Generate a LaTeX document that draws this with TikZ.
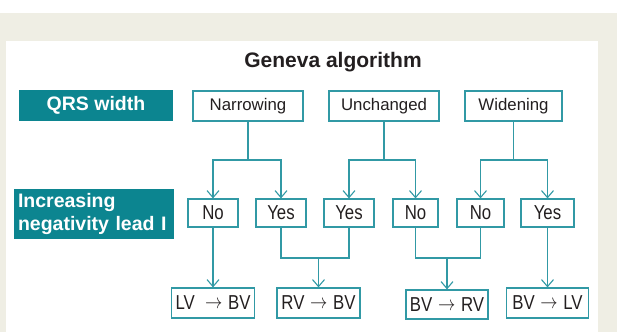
\documentclass[tikz,border=0pt]{standalone}
\usepackage{fontspec}
\setmainfont{Liberation Sans}
\usetikzlibrary{arrows.meta}
\definecolor{tealfill}{HTML}{0C8590}
\definecolor{tealline}{HTML}{3199A5}
\definecolor{panelbg}{HTML}{EFEEE4}
\definecolor{txt}{HTML}{231F20}
\newcommand\ra{\hspace{1pt}\raisebox{1pt}{$\rightarrow$}\hspace{1pt}}
\newcommand\talltxt[1]{\scalebox{1}[1.2]{#1}}

\begin{document}
\begin{tikzpicture}[x=1pt, y=-1pt,
    box/.style={draw=tealline, line width=1.2pt, fill=white, text=txt, inner sep=0pt, font=\fontsize{16.8}{19}\selectfont},
    label box/.style={fill=tealfill, text=white, inner sep=0pt, font=\bfseries\fontsize{19.5}{23.5}\selectfont},
    link/.style={draw=tealline, line width=1.2pt},
    arr/.style={link, -{Straight Barb[length=7pt, width=12pt, line width=1.1pt]}}]
    \useasboundingbox (0,0) rectangle (617,332);
    \fill[panelbg] (0,13) rectangle (617,332);
    \fill[white] (6,41) rectangle (598,332);

    \node[text=txt, font=\bfseries\fontsize{21}{25}\selectfont] (title) at (333,62) {Geneva algorithm};

    \node[label box, minimum width=154, minimum height=31] (qrs) at (96,105.5) {QRS width};
    \node[label box, minimum width=160, minimum height=50, align=left, text width=152] (neg) at (94,214) {Increasing\\negativity lead I};

    % QRS width
    \node[box, minimum width=110, minimum height=30] (narrow) at (248,106) {Narrowing};
    \node[box, minimum width=110, minimum height=30] (unchg) at (384,106) {Unchanged};
    \node[box, minimum width=97, minimum height=30] (widen) at (513.5,106) {Widening};

    % lead I
    \node[box, minimum width=50, minimum height=28] (no1) at (213,213) {\talltxt{No}};
    \node[box, minimum width=50, minimum height=28] (yes1) at (281,213) {\talltxt{Yes}};
    \node[box, minimum width=50, minimum height=28] (yes2) at (349,213) {\talltxt{Yes}};
    \node[box, minimum width=45, minimum height=28] (no2) at (415.5,213) {\talltxt{No}};
    \node[box, minimum width=47, minimum height=28] (no3) at (480.5,213) {\talltxt{No}};
    \node[box, minimum width=53, minimum height=28] (yes3) at (547.5,213) {\talltxt{Yes}};

    % result
    \node[box, minimum width=83, minimum height=30] (lvbv) at (213,303) {\talltxt{LV\ \ \ra{} BV}};
    \node[box, minimum width=83, minimum height=30] (rvbv) at (318.5,303) {\talltxt{RV \ra{} BV}};
    \node[box, minimum width=82, minimum height=29] (bvrv) at (447,304.5) {\talltxt{BV \ra{} RV}};
    \node[box, minimum width=82, minimum height=30] (bvlv) at (547.5,303) {\talltxt{BV \ra{} LV}};

    \coordinate (j1) at (248,160);
    \coordinate (j2) at (384,160);
    \coordinate (j3) at (513.5,160);
    \coordinate (m1) at (318.5,258);
    \coordinate (m2) at (447,258);

    \draw[link] (narrow.south) -- (j1);
    \draw[arr] (j1) -| (no1.north);
    \draw[arr] (j1) -| (yes1.north);
    \draw[link] (unchg.south) -- (j2);
    \draw[arr] (j2) -| (yes2.north);
    \draw[arr] (j2) -| (no2.north);
    \draw[link] (widen.south) -- (j3);
    \draw[arr] (j3) -| (no3.north);
    \draw[arr] (j3) -| (yes3.north);

    \draw[arr] (no1.south) -- (lvbv.north);
    \draw[link] (yes1.south) |- (m1) -| (yes2.south);
    \draw[arr] (m1) -- (rvbv.north);
    \draw[link] (no2.south) |- (m2) -| (no3.south);
    \draw[arr] (m2) -- (bvrv.north);
    \draw[arr] (yes3.south) -- (bvlv.north);
\end{tikzpicture}
\end{document}
